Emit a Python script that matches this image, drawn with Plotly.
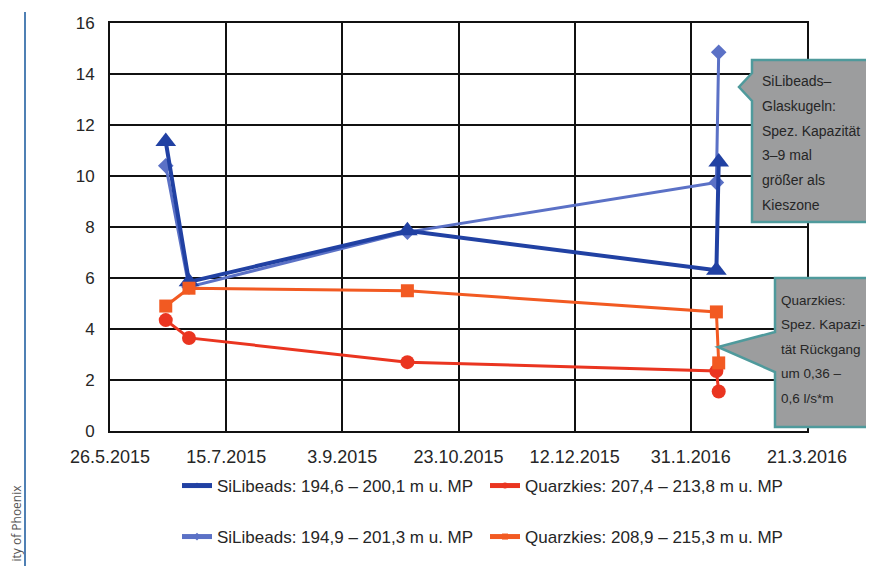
import plotly.graph_objects as go

# ---------------- data ----------------
dates = ["2015-06-19", "2015-06-29", "2015-10-01", "2016-02-11", "2016-02-12"]
si_1946 = [11.35, 5.85, 7.85, 6.3, 10.55]     # SiLibeads 194,6 – 200,1
si_1949 = [10.4, 5.65, 7.8, 9.75, 14.85]      # SiLibeads 194,9 – 201,3
qz_2074 = [4.35, 3.65, 2.7, 2.35, 1.55]       # Quarzkies 207,4 – 213,8
qz_2089 = [4.9, 5.6, 5.5, 4.67, 2.67]         # Quarzkies 208,9 – 215,3

names = [
    "SiLibeads: 194,6 – 200,1 m u. MP",
    "Quarzkies: 207,4 – 213,8 m u. MP",
    "SiLibeads: 194,9 – 201,3 m u. MP",
    "Quarzkies: 208,9 – 215,3 m u. MP",
]
x_tickvals = ["2015-05-26", "2015-07-15", "2015-09-03", "2015-10-23",
              "2015-12-12", "2016-01-31", "2016-03-21"]
x_ticktext = ["26.5.2015", "15.7.2015", "3.9.2015", "23.10.2015",
              "12.12.2015", "31.1.2016", "21.3.2016"]
y_tickvals = [0, 2, 4, 6, 8, 10, 12, 14, 16]

note1 = ["SiLibeads–", "Glaskugeln:", "Spez. Kapazität", "3–9 mal", "größer als", "Kieszone"]
note2 = ["Quarzkies:", "Spez. Kapazi-", "tät Rückgang", "um 0,36 –", "0,6 l/s*m"]

# ---------------- style ----------------
FONT = "Liberation Sans, Arial, sans-serif"
C_DARK = "#2141a3"
C_LIGHT = "#5b71c6"
C_RED = "#ea3520"
C_ORANGE = "#f25a22"
TXT = "#262626"

OFF = 8                     # page margin of the browser
SW, SH = 874, 566           # screen size
W, H = SW - OFF, SH - OFF   # figure size
L, R, T, B = 110, 807, 23, 431   # plot area in screen pixels
PW, PH = R - L, B - T


def px(x):
    return (x - L) / PW


def py(y):
    return (B - y) / PH


fig = go.Figure()

series = [
    (si_1949, names[2], C_LIGHT, "diamond", 12, 3),
    (si_1946, names[0], C_DARK, "triangle-up", 18, 4),
    (qz_2074, names[1], C_RED, "circle", 14, 3),
    (qz_2089, names[3], C_ORANGE, "square", 13, 3),
]
for vals, nm, col, sym, ms, lw in series:
    fig.add_trace(go.Scatter(
        x=dates, y=vals, mode="lines+markers", name=nm,
        line=dict(color=col, width=lw),
        marker=dict(symbol=sym, size=ms, color=col),
        showlegend=False, hoverinfo="skip",
    ))

# legend-only entries (small markers, thick lines, as in the reference)
legend_entries = [
    (names[0], C_DARK, "triangle-up", "legend"),
    (names[1], C_RED, "circle", "legend"),
    (names[2], C_LIGHT, "diamond", "legend2"),
    (names[3], C_ORANGE, "square", "legend2"),
]
for nm, col, sym, lg in legend_entries:
    fig.add_trace(go.Scatter(
        x=[None], y=[None], mode="lines+markers", name=nm,
        line=dict(color=col, width=5),
        marker=dict(symbol=sym, size=6, color=col),
        legend=lg, showlegend=True,
    ))

legend_common = dict(
    orientation="h", xanchor="left", yanchor="middle",
    font=dict(family=FONT, size=17, color=TXT),
    bgcolor="rgba(0,0,0,0)", borderwidth=0,
    entrywidth=263, entrywidthmode="pixels",
    itemclick=False, itemdoubleclick=False,
)

shapes = []
annotations = []

# callout boxes
box_fill = "#9c9d9e"
box_line = "#4f9a9c"


def callout(x0, y0, y1, tipx, tipy, b0, b1):
    pts = [(x0, y0), (x0, b0), (tipx, tipy), (x0, b1), (x0, y1), (900, y1), (900, y0)]
    d = "M " + " L ".join(f"{px(a):.5f},{py(b):.5f}" for a, b in pts) + " Z"
    return dict(type="path", xref="paper", yref="paper", path=d,
                fillcolor=box_fill, line=dict(color=box_line, width=2.5), layer="above")


shapes.append(callout(752, 60, 222, 739, 87, 73, 101))
shapes.append(callout(775, 278, 427, 718, 347, 332, 372))

for i, t in enumerate(note1):
    annotations.append(dict(
        x=px(760), y=py(81 + i * 24.8), xref="paper", yref="paper",
        text=t, showarrow=False, xanchor="left", yanchor="middle",
        font=dict(family=FONT, size=14, color=TXT)))
for i, t in enumerate(note2):
    annotations.append(dict(
        x=px(779), y=py(300 + i * 24.6), xref="paper", yref="paper",
        text=t, showarrow=False, xanchor="left", yanchor="middle",
        font=dict(family=FONT, size=13.5, color=TXT)))

# page decoration on the left
shapes.append(dict(type="line", xref="paper", yref="paper",
                   x0=px(25), x1=px(25), y0=py(12), y1=py(570),
                   line=dict(color="#4f80b4", width=2)))
annotations.append(dict(
    x=px(16), y=py(564), xref="paper", yref="paper",
    text="ity of Phoenix", showarrow=False, textangle=-90,
    xanchor="center", yanchor="bottom",
    font=dict(family="Open Sans, DejaVu Sans, sans-serif", size=12, color="#555555")))

fig.update_layout(
    width=W, height=H,
    margin=dict(l=L - OFF, r=SW - R, t=T - OFF, b=SH - B, autoexpand=False),
    paper_bgcolor="white", plot_bgcolor="white",
    font=dict(family=FONT, size=17, color=TXT),
    xaxis=dict(
        type="date", range=["2015-05-26", "2016-03-21"],
        tickmode="array", tickvals=x_tickvals, ticktext=x_ticktext,
        showgrid=True, gridcolor="#111111", gridwidth=2,
        showline=True, linecolor="#111111", linewidth=2, mirror=True,
        ticks="", zeroline=False, ticklabelstandoff=8,
        tickfont=dict(family=FONT, size=18, color=TXT),
    ),
    yaxis=dict(
        range=[0, 16], tickmode="array", tickvals=y_tickvals,
        showgrid=True, gridcolor="#111111", gridwidth=2,
        showline=True, linecolor="#111111", linewidth=2, mirror=True,
        ticks="", zeroline=False, ticklabelstandoff=10,
        tickfont=dict(family=FONT, size=17, color=TXT),
    ),
    legend=dict(x=px(177), y=py(486), **legend_common),
    legend2=dict(x=px(177), y=py(537), **legend_common),
    shapes=shapes,
    annotations=annotations,
)

fig.write_html("out.html")
